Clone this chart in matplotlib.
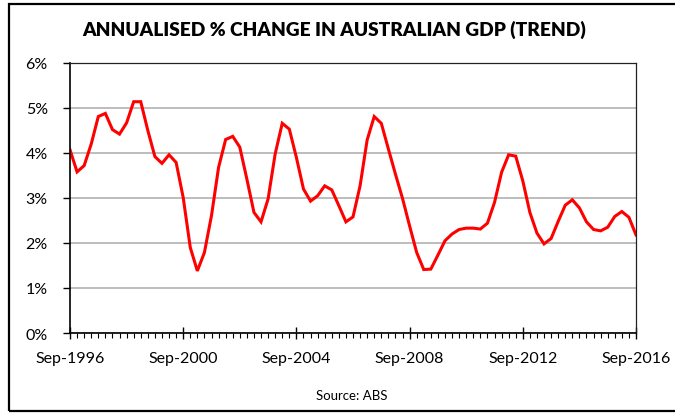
# Annualised % change in Australian GDP (trend), quarterly Sep-1996 to Sep-2016

import numpy as np
import matplotlib.pyplot as plt
from matplotlib.patches import Rectangle
from matplotlib.ticker import FixedLocator, MultipleLocator


# 年化成長率 (%)，每季一筆，從 Sep-1996 開始
gdp_growth = [
  4.07, 3.58, 3.72, 4.20, 4.81, 4.88, 4.52, 4.42, 4.67, 5.14,
  5.14, 4.50, 3.92, 3.77, 3.96, 3.79, 3.01, 1.90, 1.38, 1.79,
  2.61, 3.68, 4.30, 4.37, 4.13, 3.42, 2.68, 2.47, 2.98, 3.98,
  4.66, 4.53, 3.90, 3.20, 2.93, 3.05, 3.27, 3.18, 2.83, 2.47,
  2.58, 3.27, 4.29, 4.81, 4.66, 4.09, 3.53, 2.99, 2.38, 1.79,
  1.41, 1.42, 1.73, 2.05, 2.20, 2.30, 2.33, 2.33, 2.31, 2.44,
  2.90, 3.57, 3.96, 3.93, 3.38, 2.68, 2.22, 1.98, 2.10, 2.48,
  2.84, 2.96, 2.78, 2.47, 2.30, 2.27, 2.35, 2.59, 2.70, 2.57,
  2.18,
]
year_labels = ['Sep-1996', 'Sep-2000', 'Sep-2004', 'Sep-2008', 'Sep-2012', 'Sep-2016']
y_labels = ['0%', '1%', '2%', '3%', '4%', '5%', '6%']

plt.rcParams['font.family'] = ['Lato', 'DejaVu Sans']

fig = plt.figure(figsize=(6.75, 4.14), dpi=100)
ax = fig.add_axes([70 / 675, 1 - 334 / 414, 566 / 675, 270 / 414])

x = np.arange(len(gdp_growth))
ax.plot(x, gdp_growth, color='#ff0000', linewidth=2.2, solid_joinstyle='miter')

ax.set_xlim(0, len(gdp_growth) - 1)
ax.set_ylim(0, 6)

ax.xaxis.set_major_locator(FixedLocator(x[::16]))
ax.set_xticklabels(year_labels)
ax.xaxis.set_minor_locator(MultipleLocator(1))
ax.set_yticks(range(len(y_labels)))
ax.set_yticklabels(y_labels)

ax.tick_params(axis='x', which='major', direction='inout', length=8, width=1, pad=9, labelsize=11.5)
ax.tick_params(axis='x', which='minor', direction='out', length=3.5, width=0.8)
ax.tick_params(axis='y', which='major', direction='out', length=5, width=1, pad=11, labelsize=11.5)

ax.grid(axis='y', color='#b8b8b8', linewidth=1.3)
ax.set_axisbelow(True)
for side in ['left', 'bottom']:
  ax.spines[side].set_linewidth(1.2)
for side in ['top', 'right']:
  ax.spines[side].set_linewidth(0.9)
  ax.spines[side].set_color('#222222')

fig.text(334 / 675, 1 - 30 / 414, 'ANNUALISED % CHANGE IN AUSTRALIAN GDP (TREND)',
         ha='center', va='center', fontsize=13.8, fontweight='heavy')
fig.text(352 / 675, 1 - 396 / 414, 'Source: ABS', ha='center', va='center', fontsize=9.5)

# 外框
fig.patches.append(Rectangle((9 / 675, 1 - 412 / 414), 1.0, 407 / 414,
                             transform=fig.transFigure, fill=False,
                             edgecolor='black', linewidth=1.6))

fig.savefig('out.png', dpi=100)
